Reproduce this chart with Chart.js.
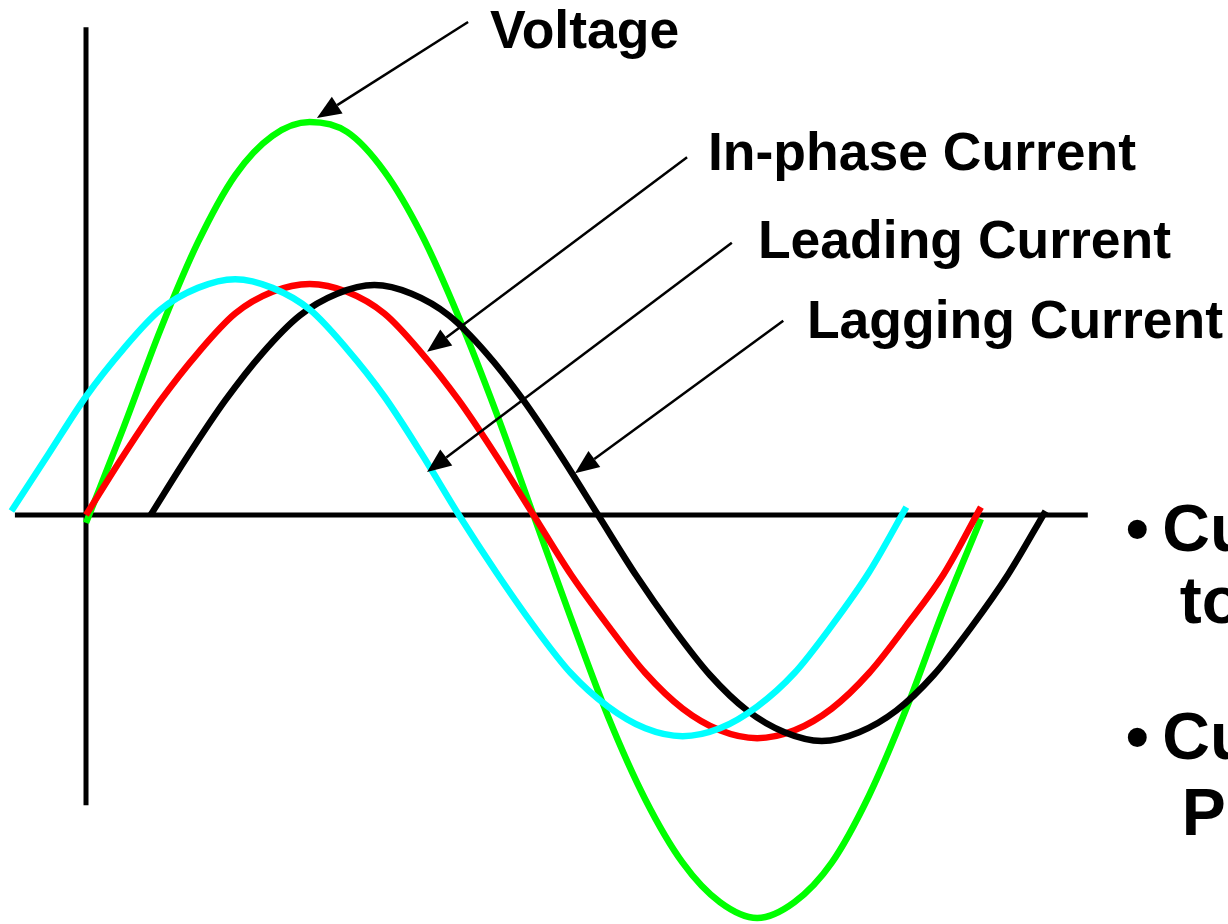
<!DOCTYPE html>
<html>
<head>
<meta charset="utf-8">
<script src="https://cdn.jsdelivr.net/npm/chart.js@4.4.0/dist/chart.umd.min.js"></script>
<style>
html, body { margin: 0; padding: 0; background: #fff; overflow: hidden; }
</style>
</head>
<body>
<canvas id="waves" width="1228" height="924"></canvas>
<script>
// Valores (graus / amplitude relativa à tensão)
const phaseDeg = [0, 15, 30, 45, 60, 75, 90, 105, 120, 135, 150, 165, 180, 195, 210, 225, 240, 255, 270, 285, 300, 315, 330, 345, 360];
const voltage = [-0.02, 0.22, 0.47, 0.69, 0.86, 0.96, 0.995, 0.97, 0.87, 0.71, 0.50, 0.26, 0.0, -0.26, -0.51, -0.72, -0.88, -0.98, -1.02, -0.98, -0.88, -0.71, -0.49, -0.24, -0.01];
const inPhase = [0.0, 0.15, 0.29, 0.41, 0.51, 0.565, 0.585, 0.565, 0.51, 0.41, 0.29, 0.15, 0.0, -0.15, -0.28, -0.40, -0.49, -0.545, -0.565, -0.545, -0.49, -0.40, -0.28, -0.15, 0.02];

const leadDeg = [-30, -15, 0, 15, 30, 45, 60, 75, 90, 105, 120, 135, 150, 165, 180, 195, 210, 225, 240, 255, 270, 285, 300, 315, 330];
const leading = [0.01, 0.155, 0.30, 0.42, 0.52, 0.575, 0.597, 0.575, 0.52, 0.42, 0.30, 0.155, 0.0, -0.145, -0.28, -0.40, -0.485, -0.54, -0.56, -0.54, -0.485, -0.40, -0.28, -0.145, 0.02];

const lagDeg = [26, 41, 56, 71, 86, 101, 116, 131, 146, 161, 176, 191, 206, 221, 236, 251, 266, 281, 296, 311, 326, 341, 356, 371, 386];
const lagging = [0.0, 0.15, 0.29, 0.41, 0.505, 0.56, 0.582, 0.56, 0.505, 0.41, 0.29, 0.15, 0.0, -0.15, -0.285, -0.405, -0.495, -0.55, -0.572, -0.55, -0.495, -0.405, -0.285, -0.15, 0.01];

// Eixos desenhados no diagrama
const axisXDeg = [-28.6, 403];
const axisYVal = [-0.735, 1.235];

// Rótulos e setas (posições em unidades de dados)
const labels = [
    { text: 'Voltage',          x: 162.5, y: 1.182, tail: [153.7, 1.248], tip: [92.9, 1.005] },
    { text: 'In-phase Current', x: 250.2, y: 0.873, tail: [241.8, 0.906], tip: [137.2, 0.413] },
    { text: 'Leading Current',  x: 270.3, y: 0.651, tail: [259.8, 0.689], tip: [137.2, 0.109] },
    { text: 'Lagging Current',  x: 290.0, y: 0.448, tail: [280.5, 0.492], tip: [196.7, 0.106] }
];

// Texto de tópicos cortado na margem direita
const sideText = [
    { text: '•',  x: 418.3, y: -0.091 },
    { text: 'Cu', x: 433.0, y: -0.091 },
    { text: 'to', x: 440.0, y: -0.273 },
    { text: '•',  x: 418.3, y: -0.618 },
    { text: 'Cu', x: 433.0, y: -0.618 },
    { text: 'Pl', x: 440.8, y: -0.810 }
];

function toPoints(xs, ys) {
    return xs.map((x, i) => ({ x: x, y: ys[i] }));
}

function curve(label, xs, ys, color) {
    return {
        label: label,
        data: toPoints(xs, ys),
        borderColor: color,
        borderWidth: 6.5,
        pointRadius: 0,
        showLine: true,
        cubicInterpolationMode: 'monotone',
        fill: false
    };
}

const annotationPlugin = {
    id: 'annotations',
    afterDatasetsDraw(chart) {
        const { ctx, scales: { x, y } } = chart;
        ctx.save();
        ctx.strokeStyle = '#000';
        ctx.fillStyle = '#000';
        ctx.lineWidth = 2.5;
        labels.forEach(l => {
            const tx = x.getPixelForValue(l.tail[0]), ty = y.getPixelForValue(l.tail[1]);
            const hx = x.getPixelForValue(l.tip[0]), hy = y.getPixelForValue(l.tip[1]);
            const ang = Math.atan2(hy - ty, hx - tx);
            const len = 24, half = 10;
            const bx = hx - len * Math.cos(ang), by = hy - len * Math.sin(ang);
            ctx.beginPath();
            ctx.moveTo(tx, ty);
            ctx.lineTo(bx, by);
            ctx.stroke();
            ctx.beginPath();
            ctx.moveTo(hx, hy);
            ctx.lineTo(bx + half * Math.sin(ang), by - half * Math.cos(ang));
            ctx.lineTo(bx - half * Math.sin(ang), by + half * Math.cos(ang));
            ctx.closePath();
            ctx.fill();

            ctx.font = 'bold 53.5px "Liberation Sans", Arial, sans-serif';
            ctx.textAlign = 'left';
            ctx.textBaseline = 'alphabetic';
            ctx.fillText(l.text, x.getPixelForValue(l.x), y.getPixelForValue(l.y));
        });
        ctx.font = 'bold 66px "Liberation Sans", Arial, sans-serif';
        sideText.forEach(s => {
            ctx.fillText(s.text, x.getPixelForValue(s.x), y.getPixelForValue(s.y));
        });
        ctx.restore();
    }
};

document.addEventListener('DOMContentLoaded', function() {
    const ctx = document.getElementById('waves').getContext('2d');
    new Chart(ctx, {
        type: 'scatter',
        data: {
            datasets: [
                curve('Leading Current', leadDeg, leading, '#00FFFF'),
                curve('Lagging Current', lagDeg, lagging, '#000000'),
                curve('In-phase Current', phaseDeg, inPhase, '#FF0000'),
                curve('Voltage', phaseDeg, voltage, '#00FF00'),
                {
                    label: 'eixo x',
                    data: toPoints(axisXDeg, [0, 0]),
                    borderColor: '#000', borderWidth: 5, pointRadius: 0, showLine: true
                },
                {
                    label: 'eixo y',
                    data: toPoints([0, 0], axisYVal),
                    borderColor: '#000', borderWidth: 5, pointRadius: 0, showLine: true
                }
            ]
        },
        options: {
            responsive: false,
            animation: false,
            layout: { padding: 0 },
            plugins: {
                legend: { display: false },
                tooltip: { enabled: false }
            },
            scales: {
                x: { type: 'linear', min: -34.6, max: 459.4, display: false },
                y: { type: 'linear', min: -1.0354, max: 1.3038, display: false }
            }
        },
        plugins: [annotationPlugin]
    });
});
</script>
</body>
</html>
